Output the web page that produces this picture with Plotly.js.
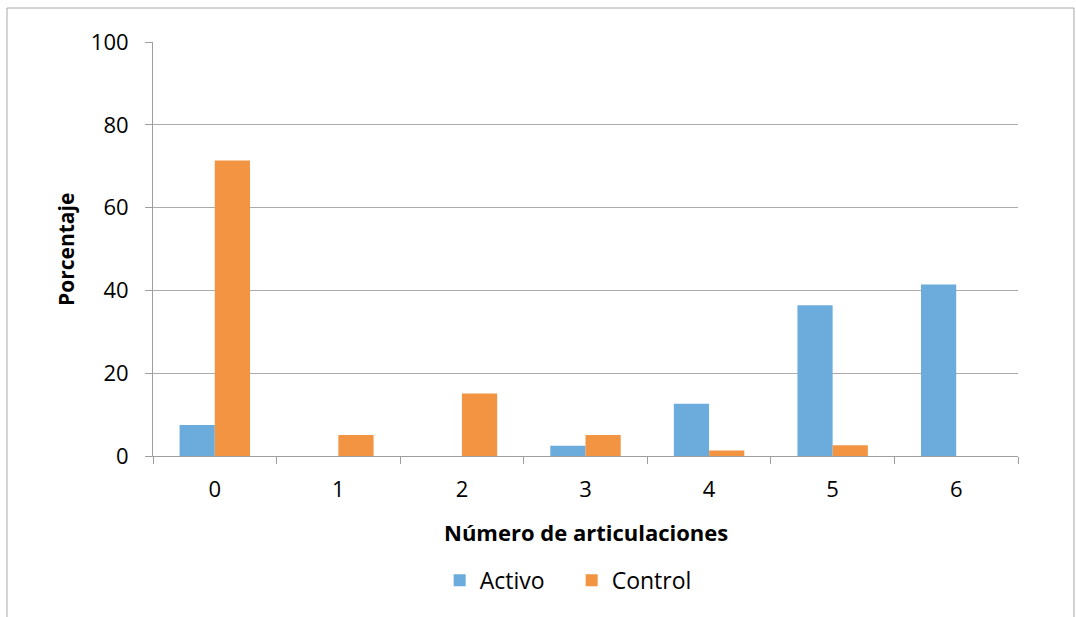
<!DOCTYPE html>
<html>
<head>
<meta charset="utf-8">
<script src="https://cdn.plot.ly/plotly-3.0.1.min.js"></script>
<style>
  html, body { margin: 0; padding: 0; background: #ffffff; }
  #chart { width: 1076px; height: 617px; }
</style>
</head>
<body>
<div id="chart"></div>
<script>
// Number of affected joints per group, as percentages
const categories = ["0", "1", "2", "3", "4", "5", "6"];
const activo = [7.5, 0, 0, 2.5, 12.6, 36.4, 41.4];
const control = [71.4, 5.1, 15.1, 5.1, 1.3, 2.6, 0];
const yTicks = [0, 20, 40, 60, 80, 100];

const font = "'Open Sans', 'Liberation Sans', sans-serif";

const traces = [
  {
    type: "bar", name: "Activo", x: categories, y: activo,
    marker: { color: "#6CACDD", line: { width: 0 } },
    hoverinfo: "x+y+name"
  },
  {
    type: "bar", name: "Control", x: categories, y: control,
    marker: { color: "#F29441", line: { width: 0 } },
    hoverinfo: "x+y+name"
  }
];

const layout = {
  width: 1076, height: 617,
  paper_bgcolor: "#ffffff", plot_bgcolor: "#ffffff",
  margin: { l: 153, r: 58, t: 42, b: 161 },
  barmode: "group",
  bargap: 0.43, bargroupgap: 0,
  showlegend: true,
  font: { family: font, size: 21, color: "#000000" },
  xaxis: {
    type: "category",
    tickson: "boundaries",
    ticks: "outside", ticklen: 7, tickcolor: "#9E9E9E", tickwidth: 1,
    ticklabelstandoff: 14,
    showline: true, linecolor: "#9E9E9E", linewidth: 1,
    showgrid: false, zeroline: false,
    tickfont: { family: font, size: 22, color: "#000000" },
    automargin: false
  },
  yaxis: {
    range: [0, 100],
    tickvals: yTicks, ticktext: yTicks.map(String),
    ticks: "outside", ticklen: 7, tickcolor: "#9E9E9E", tickwidth: 1,
    ticklabelstandoff: 12,
    showline: true, linecolor: "#9E9E9E", linewidth: 1,
    showgrid: true, gridcolor: "#ABABAB", gridwidth: 1,
    zeroline: false,
    tickfont: { family: font, size: 22, color: "#000000" },
    automargin: false
  },
  legend: {
    orientation: "h",
    x: 0.484, xanchor: "center",
    y: -0.3, yanchor: "middle",
    font: { family: font, size: 23, color: "#000000" },
    itemwidth: 30,
    entrywidth: 87, entrywidthmode: "pixels",
    tracegroupgap: 0,
    bgcolor: "rgba(0,0,0,0)"
  },
  annotations: [
    {
      text: "<b>Número de articulaciones</b>",
      xref: "paper", yref: "paper", x: 0.5, y: -0.184,
      xanchor: "center", yanchor: "middle", showarrow: false,
      font: { family: font, size: 22, color: "#000000" }
    },
    {
      text: "<b>Porcentaje</b>",
      xref: "paper", yref: "paper", x: -0.1006, y: 0.5,
      xanchor: "center", yanchor: "middle", showarrow: false, textangle: -90,
      font: { family: font, size: 21, color: "#000000" }
    }
  ],
  shapes: [
    {
      type: "rect", xref: "paper", yref: "paper",
      x0: -0.1688, x1: 1.0647, y0: -0.42, y1: 1.0821,
      line: { color: "#A8A8A8", width: 1 }, fillcolor: "rgba(0,0,0,0)",
      layer: "below"
    }
  ]
};

Plotly.newPlot("chart", traces, layout, { displayModeBar: false, staticPlot: true });
</script>
</body>
</html>
